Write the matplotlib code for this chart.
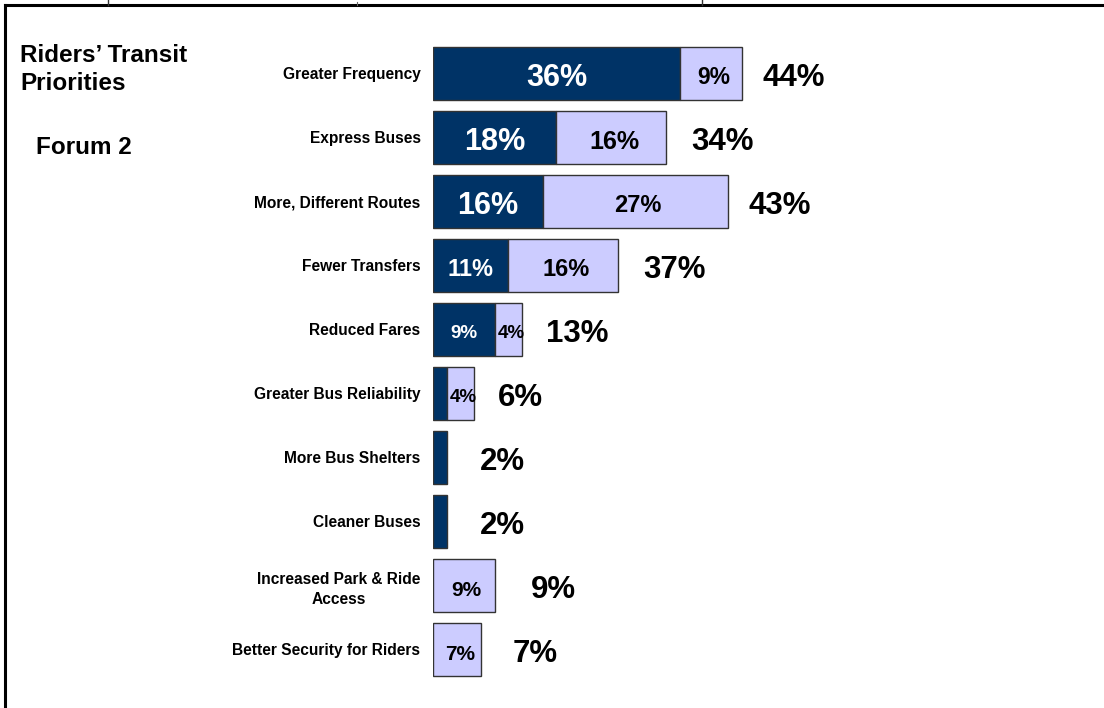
import matplotlib
matplotlib.use("Agg")
import matplotlib.pyplot as plt
from matplotlib.lines import Line2D

plt.rcParams['font.family'] = ['Liberation Sans', 'DejaVu Sans']

categories = ["Greater Frequency", "Express Buses", "More, Different Routes",
              "Fewer Transfers", "Reduced Fares", "Greater Bus Reliability",
              "More Bus Shelters", "Cleaner Buses", "Increased Park & Ride\nAccess",
              "Better Security for Riders"]
dark_vals = [36, 18, 16, 11, 9, 2, 2, 2, 0, 0]
light_vals = [9, 16, 27, 16, 4, 4, 0, 0, 9, 7]
totals = [44, 34, 43, 37, 13, 6, 2, 2, 9, 7]
dark_labels = ["36%", "18%", "16%", "11%", "9%", "", "", "", "", ""]
light_labels = ["9%", "16%", "27%", "16%", "4%", "4%", "", "", "9%", "7%"]

# styles
dark_sizes = [22, 22, 22, 17, 13.5, 0, 0, 0, 0, 0]
light_sizes = [16.5, 18, 17, 17, 13.5, 13.5, 0, 0, 15, 15]
total_gap_px = [21, 25, 21, 25, 24, 24, 33, 33, 36, 32]

DARK = "#003366"
LIGHT = "#CCCCFF"
EDGE = "#333333"

W, H = 1104, 708
fig = plt.figure(figsize=(W / 100, H / 100), dpi=100)
px_per_unit = 6.86
x0 = 433
ax = fig.add_axes([x0 / W, 0, (W - x0) / W, 1])
ax.set_xlim(0, (W - x0) / px_per_unit)
row0, step = 73, 64
ax.set_ylim((H - row0) / step, -row0 / step)
dy = 5 / step  # text sits slightly below bar centre

ys = list(range(len(categories)))
bh = 53 / 64
for i in ys:
    if dark_vals[i] > 0:
        ax.barh(i, dark_vals[i], height=bh, color=DARK, edgecolor=EDGE, linewidth=1)
    if light_vals[i] > 0:
        ax.barh(i, light_vals[i], left=dark_vals[i], height=bh, color=LIGHT,
                edgecolor=EDGE, linewidth=1)
    if dark_labels[i]:
        ax.text(dark_vals[i] / 2, i + dy, dark_labels[i], ha='center', va='center',
                color='white', fontsize=dark_sizes[i], fontweight='bold')
    if light_labels[i]:
        ax.text(dark_vals[i] + light_vals[i] / 2 + 0.4, i + dy, light_labels[i],
                ha='center', va='center', color='black', fontsize=light_sizes[i],
                fontweight='bold')
    end = dark_vals[i] + light_vals[i]
    ax.annotate(f"{totals[i]}%", xy=(end, i + dy), xytext=(total_gap_px[i] * 0.72, 0),
                textcoords='offset points', ha='left', va='center',
                fontsize=22.5, fontweight='bold', color='black')

ax.set_yticks(ys)
ax.set_yticklabels(categories, fontsize=11.2, fontweight='bold')
for lab in ax.get_yticklabels():
    lab.set_multialignment('center')
    lab.set_linespacing(1.45)
ax.tick_params(axis='y', length=0, pad=9)
ax.set_xticks([])
for s in ax.spines.values():
    s.set_visible(False)

# titles
fig.text(20 / W, 1 - 62 / H, "Riders’ Transit", fontsize=17.5, fontweight='bold',
         va='baseline', ha='left')
fig.text(20 / W, 1 - 90 / H, "Priorities", fontsize=17.5, fontweight='bold',
         va='baseline', ha='left')
fig.text(36 / W, 1 - 154 / H, "Forum 2", fontsize=17.5, fontweight='bold',
         va='baseline', ha='left')

# frame
fig.add_artist(Line2D([5 / W, 1], [1 - 5 / H, 1 - 5 / H], color='black', lw=2.2,
                      transform=fig.transFigure))
fig.add_artist(Line2D([5 / W, 5 / W], [0, 1 - 5 / H], color='black', lw=2.2,
                      transform=fig.transFigure))
for xp in [108, 702]:
    fig.add_artist(Line2D([xp / W, xp / W], [1 - 5 / H, 1], color='#333333', lw=1,
                          transform=fig.transFigure))
fig.add_artist(Line2D([357 / W, 357 / W], [1 - 5 / H, 1 - 2 / H], color='#666666',
                      lw=0.8, transform=fig.transFigure))

fig.savefig("out.png", dpi=100)
